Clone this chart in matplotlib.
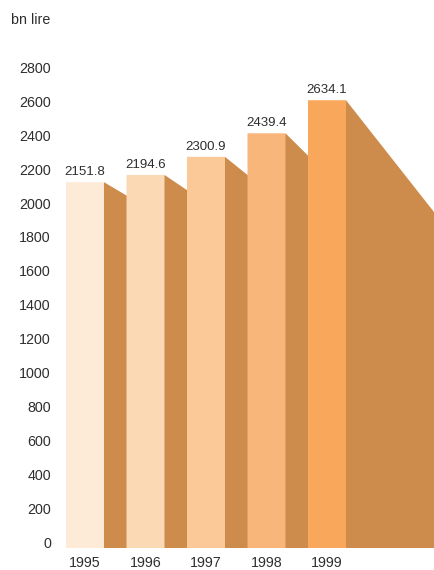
import matplotlib.pyplot as plt
from matplotlib.patches import Polygon
from matplotlib.transforms import ScaledTranslation

# Revenue by year (bn lire)
years = ['1995', '1996', '1997', '1998', '1999']
values = [2151.8, 2194.6, 2300.9, 2439.4, 2634.1]
front_colors = ['#FDEAD7', '#FCD9B5', '#FBC897', '#F9B67A', '#F8A75B']
side_color = '#CD8B4C'
text_color = '#2e2e2e'

plt.rcParams['font.family'] = ['Liberation Sans', 'DejaVu Sans']

fig = plt.figure(figsize=(4.35, 5.70), dpi=100)
ax = fig.add_axes([60 / 435, 22 / 570, 375 / 435, 510 / 570])

bar_w = 0.628
# side faces run toward a common vanishing point (data units)
vp_x, vp_y = 9.8, 153
depth = 0.35

x = list(range(len(values)))
for xi, h in zip(x, values):
    xr = xi + bar_w / 2
    xe = xr + depth * (vp_x - xr)
    he = h + depth * (vp_y - h)
    xin = xr - 0.05  # tuck the side slightly under the front face
    ax.add_patch(Polygon([(xin, 0), (xin, h - 60), (xr, h), (xe, he), (xe, 0)],
                         closed=True, facecolor=side_color,
                         edgecolor='none', zorder=1))

bars = ax.bar(x, values, width=bar_w, color=front_colors, zorder=2,
              linewidth=0)
for b in bars:
    b.set_snap(False)

for xi, h in zip(x, values):
    ax.text(xi, h + 25, '{:.1f}'.format(h), ha='center', va='bottom',
            fontsize=9.5, color=text_color)

ax.set_xlim(-0.413, 5.785)
ax.set_ylim(0, 3000)
ax.set_yticks(range(0, 2801, 200))
ax.set_xticks(x)
ax.set_xticklabels(years)
ax.tick_params(axis='y', length=0, pad=6.5, labelsize=10.3, labelcolor=text_color)
ax.tick_params(axis='x', length=0, pad=6, labelsize=10.3, labelcolor=text_color)

# y labels sit a little above their gridline values
shift = ScaledTranslation(0, 5 / 100, fig.dpi_scale_trans)
for lab in ax.get_yticklabels():
    lab.set_transform(lab.get_transform() + shift)

for s in ax.spines.values():
    s.set_visible(False)

fig.text(11 / 435, 1 - 20 / 570, 'bn lire', ha='left', va='center',
         fontsize=10.3, color=text_color)

fig.savefig('out.png', dpi=100)
